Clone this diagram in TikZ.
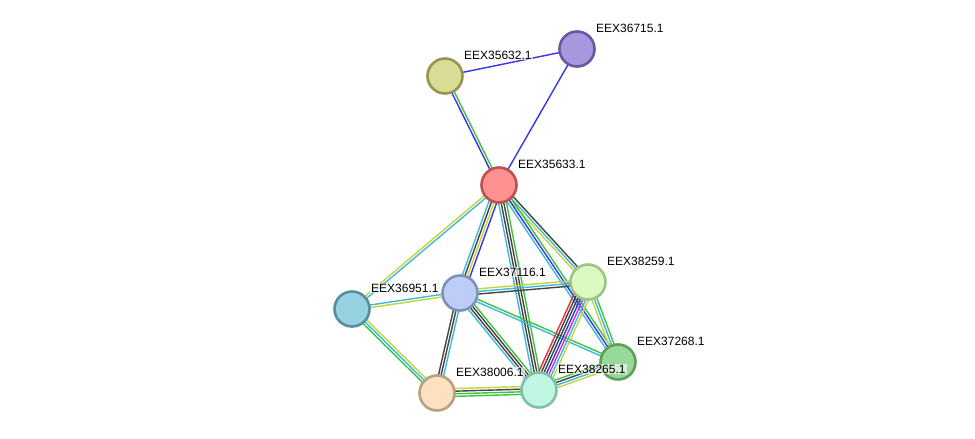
\documentclass[tikz,border=0pt]{standalone}
\usepackage{fontspec}
\setmainfont{Liberation Sans}
\usetikzlibrary{calc,backgrounds}

\definecolor{lnGreen}{HTML}{3DC43D}
\definecolor{lnBlue}{HTML}{3535F0}
\definecolor{lnCyan}{HTML}{3DB9DC}
\definecolor{lnBlack}{HTML}{444444}
\definecolor{lnYellow}{HTML}{C4D43C}
\definecolor{lnMagenta}{HTML}{CC33CC}
\definecolor{lnRed}{HTML}{F03030}

% parallel coloured lines between two proteins
\newcommand\bundle[3]{%
  \foreach \c [count=\k] in {#3}{\xdef\nlines{\k}}%
  \foreach \c [count=\k] in {#3}{%
    \pgfmathsetmacro\off{(\k-(\nlines+1)/2)*2.6}%
    \draw[link,\c] ($(#1)!\off pt!90:(#2)$) -- ($(#2)!\off pt!-90:(#1)$);
  }}

\begin{document}
\begin{tikzpicture}[x=1pt, y=-1pt,
  font=\fontsize{12}{14}\selectfont,
  prot/.style={circle, minimum size=35pt, inner sep=0pt, line width=2.6pt},
  lab/.style={anchor=west, inner sep=1pt, fill=white, fill opacity=0.6, text opacity=1},
  link/.style={line width=1.4pt}
]
\useasboundingbox (0,0) rectangle (975,439);

% proteins
\node[prot, fill={rgb,255:red,255;green,145;blue,145}, draw={rgb,255:red,190;green,80;blue,80}] (n35633) at (499,185) {};
\node[prot, fill={rgb,255:red,217;green,220;blue,148}, draw={rgb,255:red,150;green,150;blue,80}] (n35632) at (445,76) {};
\node[prot, fill={rgb,255:red,168;green,150;blue,222}, draw={rgb,255:red,105;green,88;blue,160}] (n36715) at (577,49) {};
\node[prot, fill={rgb,255:red,150;green,210;blue,224}, draw={rgb,255:red,88;green,142;blue,160}] (n36951) at (352,309) {};
\node[prot, fill={rgb,255:red,190;green,205;blue,248}, draw={rgb,255:red,128;green,145;blue,190}] (n37116) at (460,293) {};
\node[prot, fill={rgb,255:red,218;green,250;blue,194}, draw={rgb,255:red,160;green,195;blue,136}] (n38259) at (588,282) {};
\node[prot, fill={rgb,255:red,152;green,216;blue,152}, draw={rgb,255:red,92;green,160;blue,92}] (n37268) at (618,362) {};
\node[prot, fill={rgb,255:red,253;green,224;blue,192}, draw={rgb,255:red,184;green,160;blue,128}] (n38006) at (437,393) {};
\node[prot, fill={rgb,255:red,192;green,246;blue,226}, draw={rgb,255:red,128;green,192;blue,168}] (n38265) at (539,390) {};

% labels
\node[lab] (l35633) at ([shift={(18,-21)}]n35633.center) {EEX35633.1};
\node[lab] (l35632) at ([shift={(18,-21)}]n35632.center) {EEX35632.1};
\node[lab] (l36715) at ([shift={(18,-21)}]n36715.center) {EEX36715.1};
\node[lab] (l36951) at ([shift={(18,-21)}]n36951.center) {EEX36951.1};
\node[lab] (l37116) at ([shift={(18,-21)}]n37116.center) {EEX37116.1};
\node[lab] (l38259) at ([shift={(18,-21)}]n38259.center) {EEX38259.1};
\node[lab] (l37268) at ([shift={(18,-21)}]n37268.center) {EEX37268.1};
\node[lab] (l38006) at ([shift={(18,-21)}]n38006.center) {EEX38006.1};
\node[lab] (l38265) at ([shift={(18,-21)}]n38265.center) {EEX38265.1};

\begin{scope}[on background layer]
\fill[white] (0,0) rectangle (975,439);
\bundle{n35632}{n36715}{lnBlue}
\bundle{n35632}{n35633}{lnBlue,lnGreen}
\bundle{n36715}{n35633}{lnBlue}
\bundle{n35633}{n36951}{lnYellow,lnCyan}
\bundle{n35633}{n37116}{lnCyan,lnBlack,lnYellow,lnBlue}
\bundle{n35633}{n38265}{lnCyan,lnBlack,lnBlack,lnGreen}
\bundle{n35633}{n38259}{lnYellow,lnCyan,lnBlack}
\bundle{n35633}{n37268}{lnCyan,lnBlue,lnGreen}
\bundle{n36951}{n37116}{lnYellow,lnCyan}
\bundle{n36951}{n38006}{lnGreen,lnCyan,lnYellow}
\bundle{n37116}{n38259}{lnBlack,lnCyan,lnYellow}
\bundle{n37116}{n37268}{lnCyan,lnGreen}
\bundle{n37116}{n38265}{lnCyan,lnBlack,lnBlack,lnGreen}
\bundle{n37116}{n38006}{lnBlack,lnBlack,lnCyan}
\bundle{n38259}{n38265}{lnRed,lnBlack,lnBlack,lnBlue,lnMagenta,lnCyan,lnYellow}
\bundle{n38259}{n37268}{lnYellow,lnCyan,lnGreen}
\bundle{n38006}{n38265}{lnGreen,lnGreen,lnBlack,lnYellow}
\bundle{n38265}{n37268}{lnYellow,lnCyan,lnBlack,lnGreen}
\end{scope}
\end{tikzpicture}
\end{document}
